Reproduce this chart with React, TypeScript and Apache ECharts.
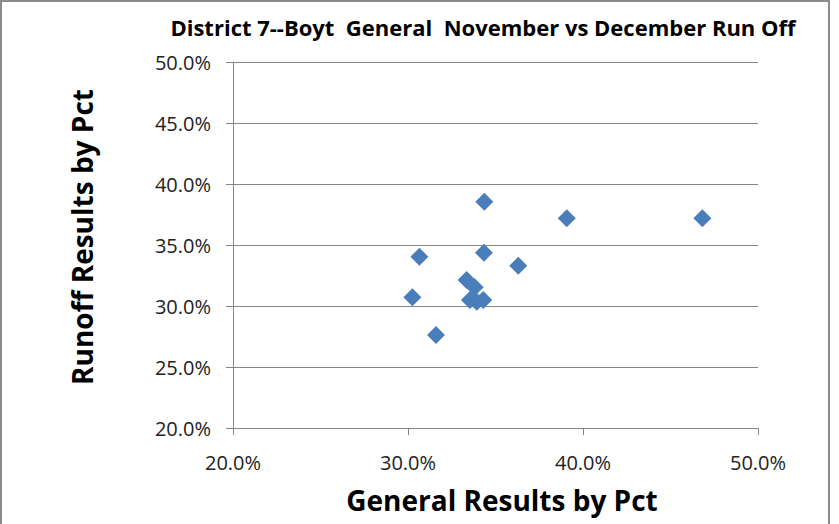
import React, { useEffect, useRef } from "react";
import * as echarts from "echarts";

const titleText = "District 7--Boyt  General  November vs December Run Off";
const xAxisTitle = "General Results by Pct";
const yAxisTitle = "Runoff Results by Pct";

// General (Nov) results, percent
const generalPct = [34.36, 30.65, 34.34, 36.3, 33.35, 33.81, 30.25, 33.54, 33.93, 34.3, 31.6, 39.07, 46.82];
// Runoff (Dec) results, percent
const runoffPct = [38.55, 34.04, 34.37, 33.3, 32.13, 31.53, 30.71, 30.49, 30.35, 30.49, 27.62, 37.19, 37.19];

const xMin = 20;
const xMax = 50;
const xStep = 10;
const yMin = 20;
const yMax = 50;
const yStep = 5;

export default function App() {
  const ref = useRef<HTMLDivElement>(null);
  useEffect(() => {
    document.body.style.margin = "0";
    const chart = echarts.init(ref.current!, null, { renderer: "svg" });
    const points = generalPct.map((g, i) => [g, runoffPct[i]]);
    chart.setOption({
      animation: false,
      backgroundColor: "#ffffff",
      grid: { left: 233, right: 81, top: 62, bottom: 96 },
      xAxis: {
        type: "value",
        min: xMin,
        max: xMax,
        interval: xStep,
        axisLine: { show: true, lineStyle: { color: "#868686", width: 1 } },
        axisTick: { show: true, length: 7, lineStyle: { color: "#868686" } },
        splitLine: { show: false },
        axisLabel: {
          margin: 24,
          color: "#222",
          fontFamily: "Open Sans",
          fontSize: 20,
          formatter: (v: number) => v.toFixed(1) + "%",
        },
      },
      yAxis: {
        type: "value",
        min: yMin,
        max: yMax,
        interval: yStep,
        axisLine: { show: true, lineStyle: { color: "#868686", width: 1 } },
        axisTick: { show: true, length: 7, lineStyle: { color: "#868686" } },
        splitLine: { show: true, lineStyle: { color: "#868686", width: 1 } },
        axisLabel: {
          margin: 22,
          color: "#222",
          fontFamily: "Open Sans",
          fontSize: 20,
          formatter: (v: number) => v.toFixed(1) + "%",
        },
      },
      series: [
        {
          type: "scatter",
          symbol: "diamond",
          symbolSize: 18,
          itemStyle: { color: "#4A7EBB", opacity: 1 },
          data: points,
        },
      ],
      graphic: [
        {
          type: "rect",
          shape: { x: 1, y: 1, width: 828, height: 540 },
          style: { fill: "none", stroke: "#8c8c8c", lineWidth: 2 },
          silent: true,
        },
        {
          type: "text",
          x: 483,
          y: 27,
          style: {
            text: titleText,
            fontFamily: "Open Sans",
            fontWeight: "bold",
            fontSize: 22,
            fill: "#000",
            textAlign: "center",
            textVerticalAlign: "middle",
          },
        },
        {
          type: "text",
          x: 502,
          y: 500,
          style: {
            text: xAxisTitle,
            fontFamily: "Open Sans",
            fontWeight: "bold",
            fontSize: 28,
            fill: "#000",
            textAlign: "center",
            textVerticalAlign: "middle",
          },
        },
        {
          type: "text",
          x: 82,
          y: 237,
          rotation: Math.PI / 2,
          style: {
            text: yAxisTitle,
            fontFamily: "Open Sans",
            fontWeight: "bold",
            fontSize: 28,
            fill: "#000",
            textAlign: "center",
            textVerticalAlign: "middle",
          },
        },
      ],
    });
    return () => chart.dispose();
  }, []);
  return <div ref={ref} style={{ width: 839, height: 524 }} />;
}
